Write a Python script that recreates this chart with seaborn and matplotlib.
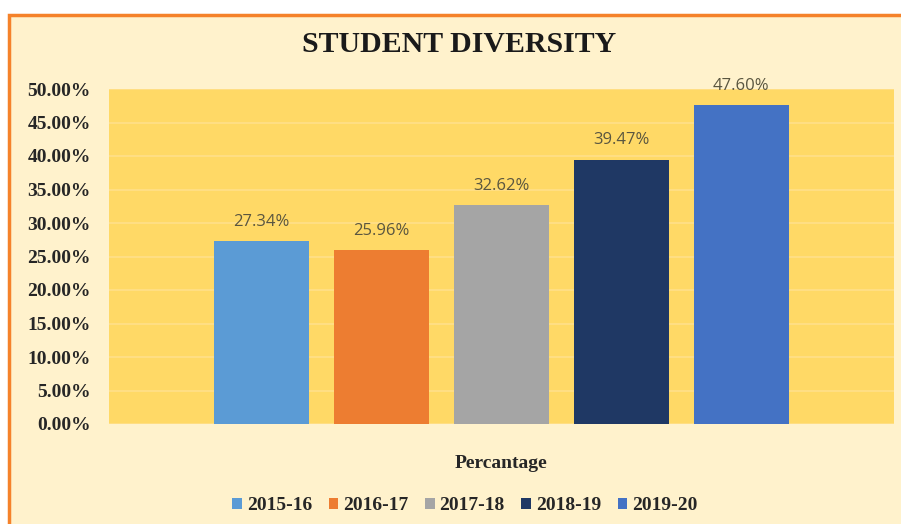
import numpy as np
import pandas as pd
import matplotlib.pyplot as plt
import matplotlib.patches as patches
from matplotlib.ticker import PercentFormatter
import seaborn as sns

years = ["2015-16", "2016-17", "2017-18", "2018-19", "2019-20"]
values = [27.34, 25.96, 32.62, 39.47, 47.60]
category = "Percantage"
colors = ["#5B9BD5", "#ED7D31", "#A5A5A5", "#1F3864", "#4472C4"]
yticks = [0, 5, 10, 15, 20, 25, 30, 35, 40, 45, 50]


def main():
    sns.set_theme(style="white")
    plt.rcParams["font.family"] = ["Liberation Serif", "DejaVu Serif"]

    data = pd.DataFrame({"category": [category] * len(years), "year": years, "value": values})

    fig = plt.figure(figsize=(9.01, 5.24), dpi=100, facecolor="white")
    # framed panel with orange border running off the right/bottom
    frame = patches.Rectangle((9 / 901, -0.2), 1.2, 0.2 + 1 - 15 / 524, transform=fig.transFigure,
                              facecolor="#FFF2CC", edgecolor="#F5822A", linewidth=2.5, zorder=-10)
    fig.patches.append(frame)

    ax = fig.add_axes([109 / 901, 100 / 524, 785 / 901, 335 / 524])
    ax.set_facecolor("#FFD966")

    sns.barplot(data=data, x="category", y="value", hue="year", palette=colors,
                width=0.764, gap=0.21, ax=ax, saturation=1, legend=True, zorder=3,
                linewidth=0, edgecolor="none")

    for container in ax.containers:
        ax.bar_label(container, labels=[f"{v:.2f}%" for v in container.datavalues], padding=8,
                     fontsize=12, color="#5A5640", family=["Open Sans", "DejaVu Sans"])

    ax.set_xlim(-0.5, 0.5)
    ax.set_ylim(0, 50)
    ax.set_yticks(yticks)
    ax.yaxis.set_major_formatter(PercentFormatter(decimals=2))
    ax.grid(axis="y", color="#FFE08A", linewidth=1.2, zorder=0)
    ax.set_axisbelow(True)
    for s in ax.spines.values():
        s.set_visible(False)
    ax.tick_params(axis="y", length=0, pad=13, labelsize=14)
    ax.tick_params(axis="x", length=0, pad=22, labelsize=14)
    for lbl in ax.get_yticklabels() + ax.get_xticklabels():
        lbl.set_fontweight("bold")
        lbl.set_color("#262626")
    ax.set_xlabel("")
    ax.set_ylabel("")

    fig.text(459 / 901, 1 - 45 / 524, "STUDENT DIVERSITY", ha="center", va="center",
             fontsize=21.5, fontweight="bold", color="#1a1a1a")

    handles, labels = ax.get_legend_handles_labels()
    ax.get_legend().remove()
    leg = fig.legend(handles, labels, loc="center", bbox_to_anchor=(465 / 901, 1 - 506 / 524),
                     ncol=5, frameon=False, handlelength=0.5, handleheight=0.5,
                     handletextpad=0.25, columnspacing=0.85,
                     prop={"weight": "bold", "size": 14})
    for t in leg.get_texts():
        t.set_color("#262626")

    fig.savefig("out.png", dpi=100, facecolor=fig.get_facecolor())


if __name__ == "__main__":
    main()
